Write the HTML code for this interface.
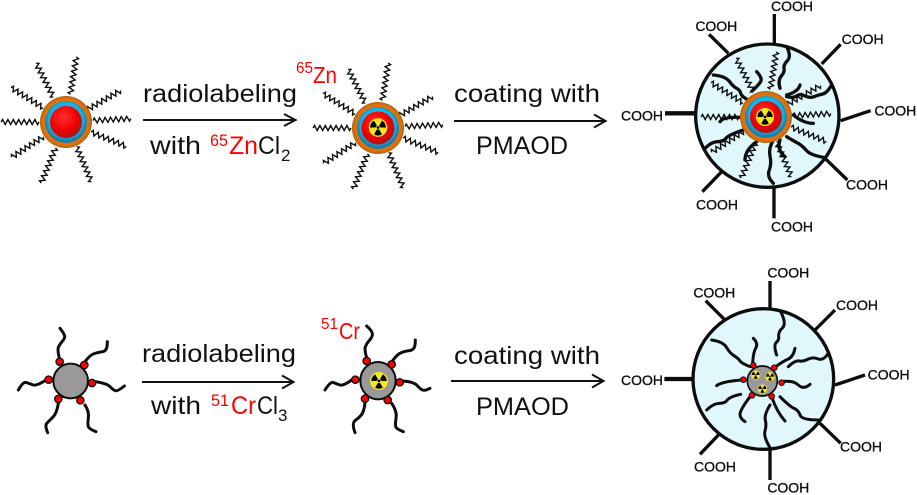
<!DOCTYPE html>
<html><head><meta charset="utf-8"><style>
html,body{margin:0;padding:0;background:#fff}
svg{display:block}
text{font-family:"Liberation Sans",sans-serif}
.l{font-size:25px;fill:#111}
.s{font-size:17px}
.r{fill:#f00}
.c{font-size:42px;fill:#111;stroke:#111;stroke-width:1}
</style></head><body>
<svg width="917" height="495" viewBox="0 0 917 495" xmlns="http://www.w3.org/2000/svg">
<defs>
<filter id="b" x="-5%" y="-5%" width="110%" height="110%"><feGaussianBlur stdDeviation="0.35"/></filter>
<radialGradient id="og" cx=".5" cy=".5" r=".5"><stop offset=".75" stop-color="#e8760f"/><stop offset=".92" stop-color="#d96f10"/><stop offset="1" stop-color="#a9600f"/></radialGradient>
<radialGradient id="cg" cx=".5" cy=".45" r=".5"><stop offset=".8" stop-color="#16b4e6"/><stop offset="1" stop-color="#1c7ea8"/></radialGradient>
<radialGradient id="rg" cx=".42" cy=".35" r=".7"><stop offset="0" stop-color="#ff3030"/><stop offset=".6" stop-color="#f00000"/><stop offset="1" stop-color="#a01818"/></radialGradient>
<path id="z" d="M0 0l1.400-2.500 2.700 5 2.700-5 2.700 5 2.700-5 2.700 5 2.700-5 2.700 5 2.700-5 2.700 5 2.700-5 2.700 5 2.700-5 2.700 5 1.400-2.500" fill="none" stroke="#111" stroke-width="1.400" stroke-linejoin="miter"/>
<g id="rays">
<use href="#z" transform="rotate(-81) translate(28 0)"/><use href="#z" transform="rotate(-117) translate(28 0)"/>
<use href="#z" transform="rotate(-148) translate(27 0)"/><use href="#z" transform="rotate(180) translate(27 0)"/>
<use href="#z" transform="rotate(147) translate(27 0)"/><use href="#z" transform="rotate(112) translate(28 0)"/>
<use href="#z" transform="rotate(67) translate(27 0)"/><use href="#z" transform="rotate(22) translate(27 0)"/>
<use href="#z" transform="rotate(-3) translate(27 0)"/><use href="#z" transform="rotate(-30) translate(25 0)"/>
</g>
<g id="tre">
<circle r="1" fill="#f5e81a"/><circle r=".15" fill="#000"/>
<path id="bl" d="M-.125 .217L-.425 .736A.85 .85 0 0 0 .425 .736L.125 .217Z" fill="#000"/>
<use href="#bl" transform="rotate(120)"/><use href="#bl" transform="rotate(240)"/>
</g>
<g id="shell">
<circle r="26" fill="url(#og)"/><circle r="21" fill="url(#cg)"/>
</g>
</defs>
<g filter="url(#b)">
<!-- top left -->
<g transform="translate(66 122)"><use href="#rays"/><use href="#shell"/><circle r="16" fill="url(#rg)"/></g>
<!-- top mid -->
<g transform="translate(378 128)"><use href="#rays"/><use href="#shell"/><circle r="16.500" fill="url(#rg)"/><use href="#tre" transform="translate(0 -.5) scale(9.300)"/></g>
<!-- top big -->
<g transform="translate(610 0) scale(.33333)">
<circle cx="472" cy="347" r="215" fill="#e0f8fc" stroke="#111" stroke-width="10"/>
<g stroke="#111" stroke-width="10" fill="none">
<path d="M493 130V42M355 160L297 103M635 192L692 133M692 362L782 332M645 475L712 540M492 565V655M335 515L277 575"/>
<path d="M258 340H165" stroke-width="13"/>
</g>
</g>
<g transform="translate(766 117)"><use href="#rays"/></g>
<g transform="translate(610 0) scale(.33333)">
<g stroke="#111" stroke-width="10" fill="none" stroke-linejoin="round" stroke-linecap="round">
<path d="M530 140Q545 170 532 182Q520 195 522 205Q525 215 514 228Q503 240 510 265"/>
<path d="M665 255Q650 280 638 282Q625 285 612 290Q600 295 585 288Q570 280 560 288Q550 295 530 290"/>
<path d="M570 255Q565 275 530 285"/>
<path d="M310 225Q345 228 358 244Q370 260 380 265Q390 270 392 280Q395 290 415 300"/>
<path d="M440 215Q458 235 452 245Q445 255 430 270"/>
<path d="M285 445Q305 425 322 425Q340 425 348 415Q355 405 400 390"/>
<path d="M390 352Q340 350 330 365"/>
<path d="M440 425Q405 450 405 480"/>
<path d="M490 550Q470 530 478 510Q485 490 480 468Q475 445 490 420"/>
<path d="M510 420Q500 450 525 470"/>
<path d="M640 472Q600 465 590 452Q580 440 568 432Q555 425 530 410"/>
<path d="M550 345Q580 370 610 370"/>
</g>
</g>
<g transform="translate(766 117)"><use href="#shell"/><circle r="16" fill="url(#rg)"/><use href="#tre" transform="translate(-1 0) scale(9)"/></g>
<g transform="translate(610 0) scale(.33333)">
<text class="c" x="483" y="33">COOH</text><text class="c" x="695" y="132">COOH</text><text class="c" x="256" y="93">COOH</text><text class="c" x="793" y="347">COOH</text><text class="c" x="33" y="362">COOH</text><text class="c" x="708" y="568">COOH</text><text class="c" x="258" y="628">COOH</text><text class="c" x="483" y="695">COOH</text>
</g>
<!-- bottom left -->
<g transform="translate(0 310) scale(.33333)">
<g stroke="#111" stroke-width="9" fill="none" stroke-linejoin="round" stroke-linecap="round">
<path d="M178 145Q172 120 175 112Q178 105 186 95Q195 85 194 78Q192 70 180 55"/>
<path d="M255 155Q270 135 280 132Q290 128 302 126Q315 125 318 118Q322 112 322 95"/>
<path d="M285 215Q320 220 330 230Q340 240 346 242Q352 245 373 228"/>
<path d="M255 285Q268 305 265 325Q262 345 266 352Q270 358 288 365"/>
<path d="M175 280Q170 310 160 320Q150 330 142 338Q133 345 143 368"/>
<path d="M135 212Q110 228 100 225Q90 222 80 218Q70 213 55 240"/>
</g>
<circle cx="212" cy="213" r="52" fill="#999" stroke="#111" stroke-width="6"/>
<g fill="#f00" stroke="#111" stroke-width="4">
<circle cx="179" cy="155" r="11"/><circle cx="253" cy="165" r="11"/><circle cx="276" cy="219" r="11"/><circle cx="241" cy="271" r="11"/><circle cx="175" cy="267" r="11"/><circle cx="146" cy="209" r="11"/>
</g>
</g>
<!-- bottom mid -->
<g transform="translate(310 310) scale(.33333)">
<g stroke="#111" stroke-width="9" fill="none" stroke-linejoin="round" stroke-linecap="round">
<path d="M170 143Q163 120 166 110Q170 100 179 90Q188 80 187 71Q186 62 170 48"/>
<path d="M248 152Q262 132 274 128Q285 123 298 122Q310 120 313 112Q316 105 316 90"/>
<path d="M278 213Q310 215 321 226Q332 238 338 240Q345 243 360 235"/>
<path d="M245 280Q262 305 258 325Q255 345 258 352Q262 358 280 365"/>
<path d="M165 278Q162 305 154 315Q145 325 135 332Q125 340 135 368"/>
<path d="M125 210Q100 228 90 225Q80 222 71 218Q62 213 45 240"/>
</g>
<ellipse cx="204" cy="212" rx="53" ry="56" fill="#999" stroke="#111" stroke-width="6"/>
<use href="#tre" transform="translate(207 213) scale(27)"/>
<g fill="#f00" stroke="#111" stroke-width="4">
<circle cx="170" cy="153" r="11"/><circle cx="245" cy="163" r="11"/><circle cx="269" cy="217" r="11"/><circle cx="233" cy="270" r="11"/><circle cx="165" cy="266" r="11"/><circle cx="136" cy="209" r="11"/>
</g>
</g>
<!-- bottom big -->
<g transform="translate(610 255) scale(.33333)">
<circle cx="460" cy="372" r="211" fill="#e0f8fc" stroke="#111" stroke-width="10"/>
<g stroke="#111" stroke-width="10" fill="none">
<path d="M480 165V78M345 195L287 137M615 225L675 165M675 390L765 360M630 505L692 565M480 580V675M330 535L270 598"/>
<path d="M250 372H163" stroke-width="13"/>
</g>
<g stroke="#111" stroke-width="9" fill="none" stroke-linejoin="round" stroke-linecap="round">
<path d="M512 170Q530 205 518 218Q505 230 506 242Q508 255 499 262Q490 270 500 300"/>
<path d="M655 295Q640 318 625 312Q610 305 595 312Q580 320 568 318Q555 315 535 335"/>
<path d="M493 338Q520 318 535 312Q550 305 555 280"/>
<path d="M305 255Q340 260 350 278Q360 295 372 302Q385 310 390 318Q395 325 420 335"/>
<path d="M430 250Q445 265 438 278Q430 290 428 325"/>
<path d="M320 392Q335 380 395 375"/>
<path d="M290 465Q310 445 328 445Q345 445 352 435Q360 425 392 418"/>
<path d="M420 425Q390 465 390 478Q390 490 405 500"/>
<path d="M480 578Q460 545 465 528Q470 510 466 495Q462 480 480 450"/>
<path d="M485 425Q500 470 525 498"/>
<path d="M625 495Q575 495 570 480Q565 465 552 460Q540 455 510 425"/>
<path d="M515 380Q550 375 565 390Q580 405 600 388"/>
</g>
<circle cx="457" cy="378" r="45" fill="#999" stroke="#111" stroke-width="5"/>
<use href="#tre" transform="translate(437 360) scale(14)"/><use href="#tre" transform="translate(480 365) scale(14)"/><use href="#tre" transform="translate(457 402) scale(14)"/>
<g fill="#f00" stroke="#111" stroke-width="3">
<circle cx="430" cy="331" r="8.500"/><circle cx="493" cy="338" r="8.500"/><circle cx="515" cy="383" r="8.500"/><circle cx="485" cy="424" r="8.500"/><circle cx="426" cy="421" r="8.500"/><circle cx="400" cy="374" r="8.500"/>
</g>
<text class="c" x="472" y="68">COOH</text><text class="c" x="678" y="165">COOH</text><text class="c" x="250" y="127">COOH</text><text class="c" x="773" y="373">COOH</text><text class="c" x="33" y="390">COOH</text><text class="c" x="690" y="590">COOH</text><text class="c" x="252" y="650">COOH</text><text class="c" x="472" y="712">COOH</text>
</g>
</g>
<!-- arrows -->
<g stroke="#111" stroke-width="2" fill="none">
<path d="M143 120H295M284 114L295.500 120 284 126"/>
<path d="M454 121H605M594 114.500L605.500 121 594 127.500"/>
<path d="M142 382H293M282 375.500L293.500 382 282 388.500"/>
<path d="M451 381H603M592 374.500L603.500 381 592 387.500"/>
</g>
<!-- labels -->
<text class="l" x="143" y="102" textLength="154" lengthAdjust="spacingAndGlyphs">radiolabeling</text>
<text class="l" x="150" y="154" textLength="51" lengthAdjust="spacingAndGlyphs">with</text>
<text class="l r s" x="210" y="146" style="font-size:17px" textLength="18" lengthAdjust="spacingAndGlyphs">65</text>
<text class="l r" x="229" y="154" style="fill:#f00" textLength="29" lengthAdjust="spacingAndGlyphs">Zn</text>
<text class="l" x="258" y="154" textLength="22" lengthAdjust="spacingAndGlyphs">Cl</text>
<text class="l" x="281" y="161" style="font-size:17px">2</text>
<text class="l" x="454" y="102" textLength="146" lengthAdjust="spacingAndGlyphs">coating with</text>
<text class="l" x="476" y="154" textLength="92" lengthAdjust="spacingAndGlyphs">PMAOD</text>
<text class="l" x="142" y="362" textLength="154" lengthAdjust="spacingAndGlyphs">radiolabeling</text>
<text class="l" x="151" y="414" textLength="50" lengthAdjust="spacingAndGlyphs">with</text>
<text class="l" x="211" y="406" style="font-size:17px;fill:#f00" textLength="18" lengthAdjust="spacingAndGlyphs">51</text>
<text class="l" x="231" y="414" style="fill:#f00" textLength="25" lengthAdjust="spacingAndGlyphs">Cr</text>
<text class="l" x="257" y="414" textLength="21" lengthAdjust="spacingAndGlyphs">Cl</text>
<text class="l" x="278" y="421" style="font-size:17px">3</text>
<text class="l" x="454" y="364" textLength="146" lengthAdjust="spacingAndGlyphs">coating with</text>
<text class="l" x="476" y="415" textLength="93" lengthAdjust="spacingAndGlyphs">PMAOD</text>
<text x="296" y="73" font-size="16" fill="#f00" textLength="17" lengthAdjust="spacingAndGlyphs">65</text>
<text x="313" y="83" font-size="23" fill="#f00" textLength="24" lengthAdjust="spacingAndGlyphs">Zn</text>
<text x="321" y="329" font-size="16" fill="#f00" textLength="17" lengthAdjust="spacingAndGlyphs">51</text>
<text x="339" y="339" font-size="23" fill="#f00" textLength="21" lengthAdjust="spacingAndGlyphs">Cr</text>
</svg>
</body></html>
